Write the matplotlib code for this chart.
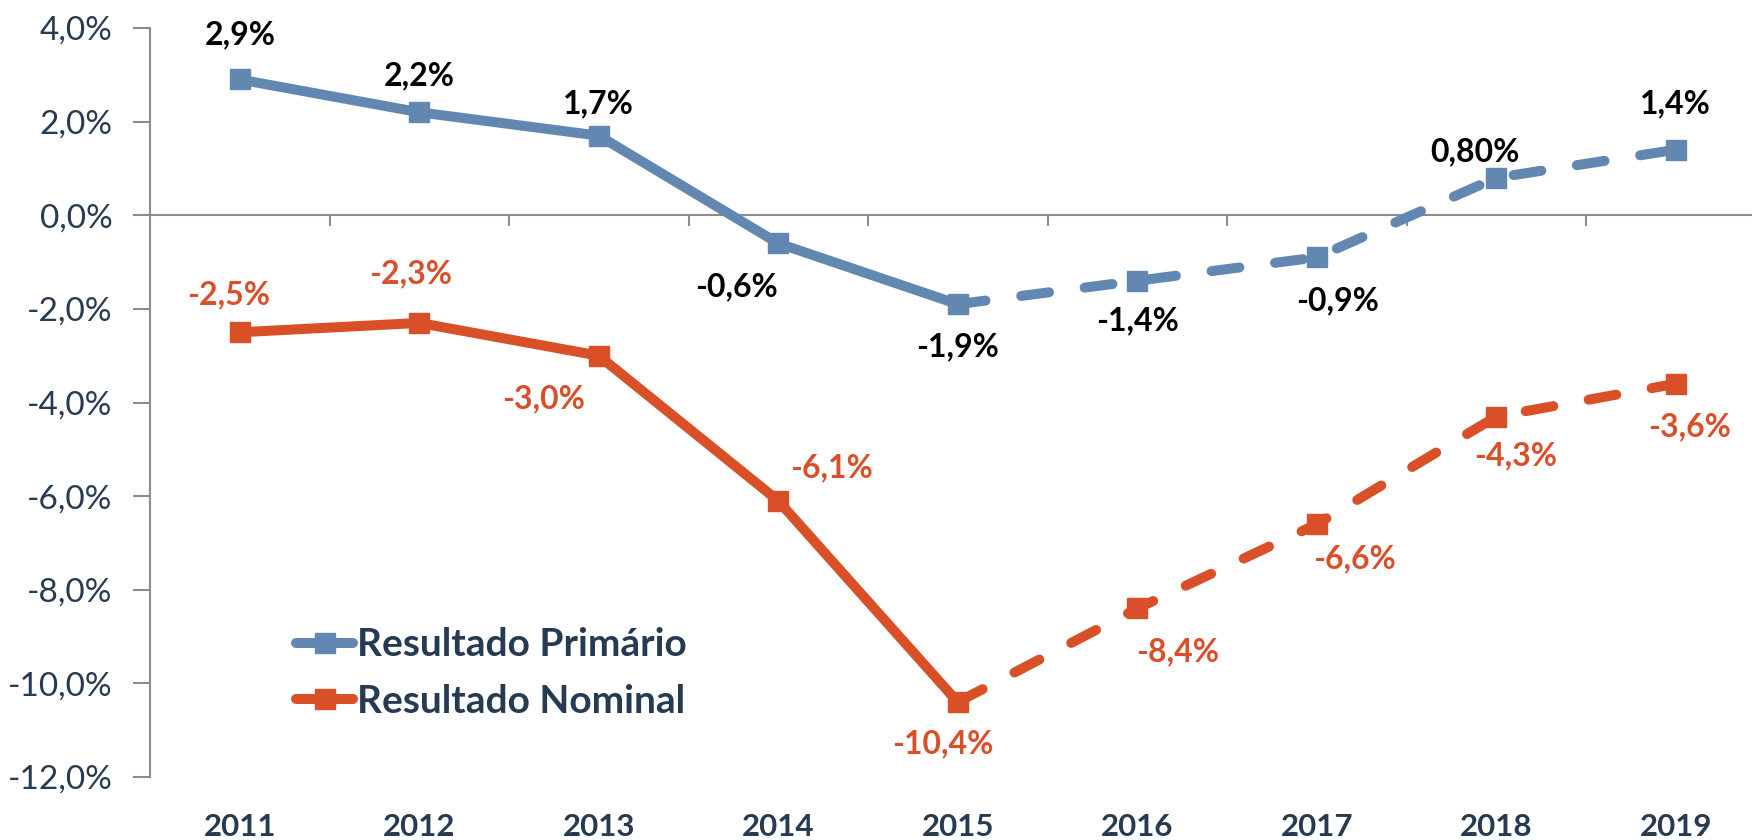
import matplotlib
matplotlib.use('Agg')
import matplotlib.pyplot as plt
from matplotlib.lines import Line2D
from matplotlib.ticker import FuncFormatter

# dados
anos = ['2011', '2012', '2013', '2014', '2015', '2016', '2017', '2018', '2019']
primario = [2.9, 2.2, 1.7, -0.6, -1.9, -1.4, -0.9, 0.8, 1.4]
nominal = [-2.5, -2.3, -3.0, -6.1, -10.4, -8.4, -6.6, -4.3, -3.6]
rot_primario = ['2,9%', '2,2%', '1,7%', '-0,6%', '-1,9%', '-1,4%', '-0,9%', '0,80%', '1,4%']
rot_nominal = ['-2,5%', '-2,3%', '-3,0%', '-6,1%', '-10,4%', '-8,4%', '-6,6%', '-4,3%', '-3,6%']
inicio_projecao = 4  # a partir de 2015 a linha fica tracejada

# deslocamento dos rótulos (pontos)
off_primario = [(0, 32), (0, 26), (0, 23), (-30, -31), (0, -31), (0, -29), (15, -31), (-15, 19), (0, 33)]
off_nominal = [(-8, 27), (-6, 35), (-40, -31), (38, 24), (-11, -30), (29, -31), (27, -25), (14, -28), (10, -31)]

azul = '#6287B1'
laranja = '#D95028'
texto = '#263A52'
cinza = '#8C8C8C'

plt.rcParams['font.family'] = ['Lato', 'DejaVu Sans']

fig = plt.figure(figsize=(17.52, 8.4), dpi=100)
ax = fig.add_axes([150 / 1752, 1 - 777 / 840, 1 - 150 / 1752, (777 - 28) / 840])

x = list(range(len(anos)))
lw = 7.2
ms = 14


def desenha(valores, cor):
    k = inicio_projecao
    ax.plot(x[:k + 1], valores[:k + 1], color=cor, lw=lw, solid_capstyle='round', zorder=3)
    ax.plot(x[k:], valores[k:], color=cor, lw=lw, dashes=(2.8, 3.6),
            dash_capstyle='round', zorder=3)
    ax.plot(x, valores, ls='none', marker='s', ms=ms, color=cor, zorder=4)


desenha(primario, azul)
desenha(nominal, laranja)

for i in x:
    ax.annotate(rot_primario[i], (i, primario[i]), xytext=off_primario[i],
                textcoords='offset points', ha='center', va='center',
                fontsize=23, fontweight='bold', color='black', zorder=5)
    ax.annotate(rot_nominal[i], (i, nominal[i]), xytext=off_nominal[i],
                textcoords='offset points', ha='center', va='center',
                fontsize=23, fontweight='bold', color=laranja, zorder=5)

# eixos
ax.set_ylim(-12, 4)
ax.set_xlim(-0.5, -0.5 + 1602 / 179.5)
ax.set_yticks(range(-12, 5, 2))
ax.yaxis.set_major_formatter(FuncFormatter(lambda v, p: f'{v:.1f}%'.replace('.', ',')))
ax.tick_params(axis='y', direction='out', length=12, width=1.5, color=cinza,
               labelsize=24, labelcolor=texto, pad=15)
ax.set_xticks(x)
ax.set_xticklabels(anos, fontweight='bold')
ax.tick_params(axis='x', length=0, labelsize=22.5, labelcolor=texto, pad=26)

for lado in ['top', 'right', 'bottom']:
    ax.spines[lado].set_visible(False)
ax.spines['left'].set_color(cinza)
ax.spines['left'].set_linewidth(1.5)

# linha do zero com marcas entre categorias
ax.axhline(0, color=cinza, lw=1.5, zorder=1)
ax.vlines([i + 0.5 for i in x], -0.22, 0, color=cinza, lw=1.5, zorder=1)

# legenda
handles = [Line2D([], [], color=azul, lw=lw, marker='s', ms=ms, solid_capstyle='round'),
           Line2D([], [], color=laranja, lw=lw, marker='s', ms=ms, solid_capstyle='round')]
leg = ax.legend(handles, ['Resultado Primário', 'Resultado Nominal'],
                loc='lower left', bbox_to_anchor=(277 / 1752, 1 - 738 / 840),
                bbox_transform=fig.transFigure, frameon=False, fontsize=28,
                handlelength=1.45, handletextpad=0.1, labelspacing=0.55,
                borderpad=0)
for t in leg.get_texts():
    t.set_color(texto)
    t.set_fontweight('bold')

fig.savefig('out.png', dpi=100)
